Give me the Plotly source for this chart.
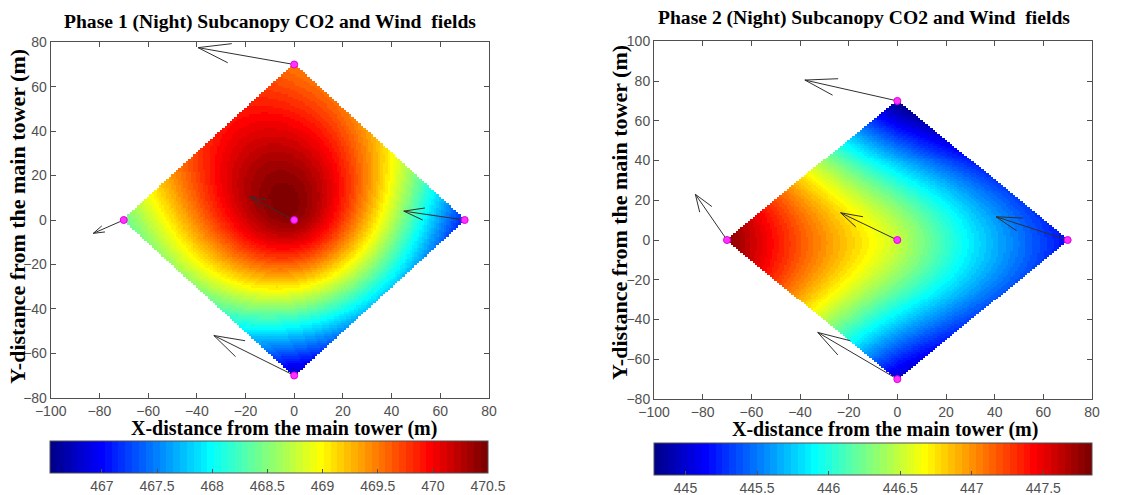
import numpy as np
import plotly.graph_objects as go

# ---------------- data ----------------
# station order: top, centre, left, right, bottom
station_x = [0, 0, -70, 70, 0]
station_y = [70, 0, 0, 0, -70]

# Phase 1 CO2 (ppm) at stations and wind vectors (as drawn, axis units)
co2_p1 = [469.50, 470.40, 468.40, 467.10, 466.73]
u_p1 = [-39.5, -18.4, -12.5, -25.0, -33.0]
v_p1 = [7.6, 10.5, -6.0, 4.0, 18.0]
cbar_range_p1 = [466.53, 470.5]
cbar_ticks_p1 = [467, 467.5, 468, 468.5, 469, 469.5, 470, 470.5]

# Phase 2
co2_p2 = [444.78, 446.50, 447.80, 445.15, 445.00]
u_p2 = [-38.0, -23.3, -13.0, -29.4, -32.7]
v_p2 = [10.5, 13.7, 23.0, 11.7, 23.5]
cbar_range_p2 = [444.78, 447.84]
cbar_ticks_p2 = [445, 445.5, 446, 446.5, 447, 447.5]

titles = ["Phase 1 (Night) Subcanopy CO2 and Wind  fields",
          "Phase 2 (Night) Subcanopy CO2 and Wind  fields"]
xlabel = "X-distance from the main tower (m)"
ylabel = "Y-distance from the main tower (m)"


# ---------------- helpers ----------------
def matlab_jet(m=64):
    n = int(np.ceil(m / 4))
    u = np.concatenate([np.arange(1, n + 1) / n, np.ones(n - 1), np.arange(n, 0, -1) / n])
    g = int(np.ceil(n / 2)) - (1 if m % 4 == 1 else 0) + np.arange(1, len(u) + 1)
    r = g + n
    b = g - n
    g = g[g <= m]
    r = r[r <= m]
    b = b[b >= 1]
    J = np.zeros((m, 3))
    J[r - 1, 0] = u[:len(r)]
    J[g - 1, 1] = u[:len(g)]
    J[b - 1, 2] = u[len(u) - len(b):]
    return J


def discrete_scale(J):
    m = len(J)
    cs = []
    for i, c in enumerate(J):
        col = "rgb(%d,%d,%d)" % tuple(int(round(255 * t)) for t in c)
        cs.append([i / m, col])
        cs.append([(i + 1) / m, col])
    return cs


def tps(xs, ys, zs, X, Y):
    """Thin-plate spline surface through the station values."""
    xs = np.asarray(xs, float); ys = np.asarray(ys, float); zs = np.asarray(zs, float)
    n = len(xs)

    def phi(r):
        with np.errstate(divide="ignore", invalid="ignore"):
            return np.where(r > 0, r ** 2 * np.log(np.where(r > 0, r, 1.0)), 0.0)

    K = phi(np.hypot(xs[:, None] - xs[None, :], ys[:, None] - ys[None, :]))
    P = np.column_stack([np.ones(n), xs, ys])
    A = np.zeros((n + 3, n + 3))
    A[:n, :n] = K; A[:n, n:] = P; A[n:, :n] = P.T
    sol = np.linalg.solve(A, np.concatenate([zs, np.zeros(3)]))
    w, a = sol[:n], sol[n:]
    R = phi(np.hypot(X[..., None] - xs, Y[..., None] - ys))
    return R @ w + a[0] + a[1] * X + a[2] * Y


def quiver_lines(x0, y0, u, v, alpha=0.33, beta=0.33):
    lx, ly = [], []
    for x, y, du, dv in zip(x0, y0, u, v):
        tx, ty = x + du, y + dv
        lx += [x, tx, None]
        ly += [y, ty, None]
        lx += [tx - alpha * (du + beta * dv), tx, tx - alpha * (du - beta * dv), None]
        ly += [ty - alpha * (dv - beta * du), ty, ty - alpha * (dv + beta * du), None]
    return lx, ly


jet = discrete_scale(matlab_jet(64))
grid = np.arange(-70, 71, 1.0)
GX, GY = np.meshgrid(grid, grid)
mask = (np.abs(GX) + np.abs(GY)) > 70

W, H = 1142, 495
tickfont = dict(family="Liberation Sans, Arial, sans-serif", size=14, color="#505050")
serif_bold = dict(family="Liberation Serif, Times New Roman, serif", size=20, color="black", weight="bold")

panels = [
    dict(co2=co2_p1, u=u_p1, v=v_p1, crange=cbar_range_p1, cticks=cbar_ticks_p1,
         xdom=[50.7 / W, 489 / W], ydom=[1 - 397.7 / H, 1 - 42.3 / H], yrange=[-80, 80],
         cb_x=50 / W, cb_y=1 - 440.7 / H, cb_len=438 / W,
         title_xy=((50.7 + 489) / 2, 22.5), xt_xy=(283.5, 428.5), yt_xy=(18, 217)),
    dict(co2=co2_p2, u=u_p2, v=v_p2, crange=cbar_range_p2, cticks=cbar_ticks_p2,
         xdom=[654 / W, 1092 / W], ydom=[1 - 399 / H, 1 - 41.3 / H], yrange=[-80, 100],
         cb_x=654 / W, cb_y=1 - 442.7 / H, cb_len=438 / W,
         title_xy=(864, 18), xt_xy=(884.5, 429.5), yt_xy=(619, 212)),
]

fig = go.Figure()
layout = dict(width=W, height=H, margin=dict(l=0, r=0, t=0, b=0, autoexpand=False),
              paper_bgcolor="white", plot_bgcolor="white", showlegend=False)
for k, p in enumerate(panels):
    sfx = "" if k == 0 else str(k + 1)
    Z = tps(station_x, station_y, p["co2"], GX, GY)
    Z[mask] = np.nan
    zl = [[None if np.isnan(t) else float(t) for t in row] for row in Z]
    fig.add_trace(go.Heatmap(
        x=grid.tolist(), y=grid.tolist(), z=zl, colorscale=jet, zmin=p["crange"][0], zmax=p["crange"][1],
        zsmooth=False, xaxis="x" + sfx, yaxis="y" + sfx, hoverongaps=False,
        colorbar=dict(orientation="h", x=p["cb_x"], xanchor="left", y=p["cb_y"], yanchor="top",
                      len=p["cb_len"], lenmode="fraction", thickness=32, thicknessmode="pixels",
                      xpad=0, ypad=0, outlinewidth=1, outlinecolor="#505050",
                      tickvals=p["cticks"], ticktext=[("%g" % t) for t in p["cticks"]],
                      ticks="inside", ticklen=4, tickcolor="#505050", tickfont=tickfont),
    ))
    lx, ly = quiver_lines(station_x, station_y, p["u"], p["v"])
    fig.add_trace(go.Scatter(x=lx, y=ly, mode="lines", line=dict(color="#303030", width=1),
                             xaxis="x" + sfx, yaxis="y" + sfx, hoverinfo="skip"))
    fig.add_trace(go.Scatter(x=station_x, y=station_y, mode="markers",
                             marker=dict(color="#ff33ff", size=7, line=dict(color="#e000e0", width=1)),
                             xaxis="x" + sfx, yaxis="y" + sfx, cliponaxis=False))
    axcommon = dict(showgrid=False, zeroline=False, showline=True, linecolor="#505050", linewidth=1,
                    mirror="allticks", ticks="inside", ticklen=5, tickcolor="#505050",
                    tickfont=tickfont, dtick=20, automargin=False)
    layout["xaxis" + sfx] = dict(axcommon, domain=p["xdom"], range=[-100, 80],
                                 anchor="y" + sfx, tick0=-100)
    layout["yaxis" + sfx] = dict(axcommon, domain=p["ydom"], range=p["yrange"],
                                 anchor="x" + sfx, tick0=-80)

fig.update_layout(**layout)
for k, p in enumerate(panels):
    fig.add_annotation(text=titles[k], x=p["title_xy"][0] / W, y=1 - p["title_xy"][1] / H,
                       xref="paper", yref="paper", showarrow=False, font=dict(serif_bold, size=19.6),
                       xanchor="center", yanchor="middle")
    fig.add_annotation(text=xlabel, x=p["xt_xy"][0] / W, y=1 - p["xt_xy"][1] / H,
                       xref="paper", yref="paper", showarrow=False, font=serif_bold,
                       xanchor="center", yanchor="middle")
    fig.add_annotation(text=ylabel, x=p["yt_xy"][0] / W, y=1 - p["yt_xy"][1] / H, textangle=-90,
                       xref="paper", yref="paper", showarrow=False, font=dict(serif_bold, size=22),
                       xanchor="center", yanchor="middle")

fig.write_html("out.html")
